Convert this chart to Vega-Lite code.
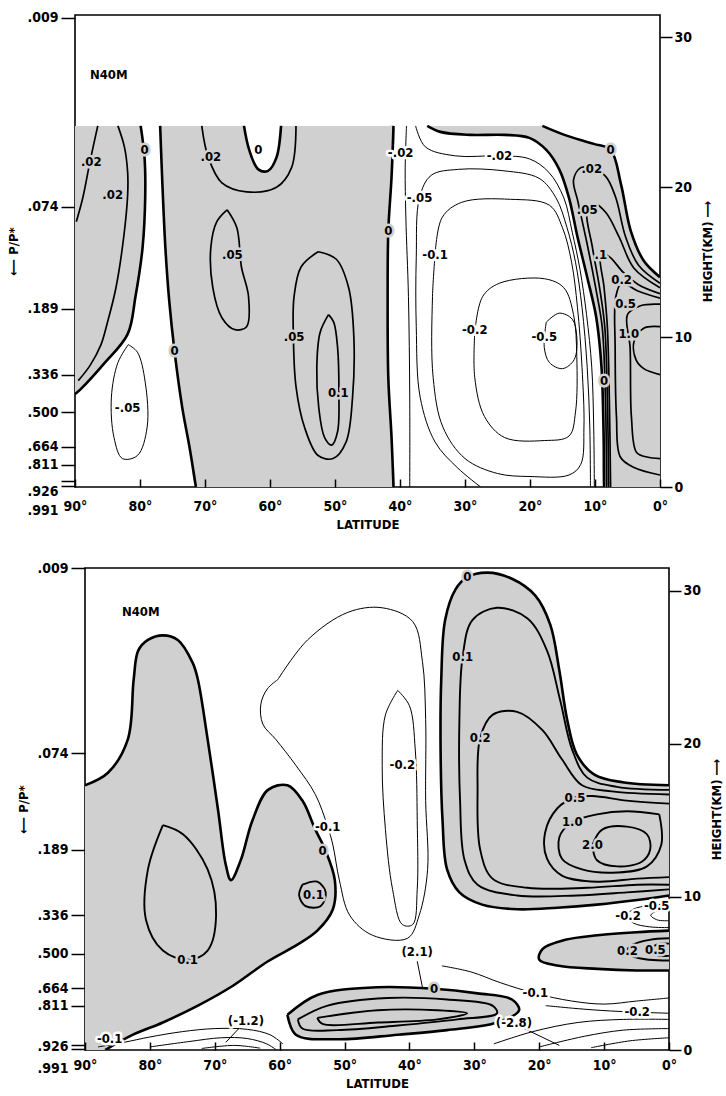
{
  "$schema": "https://vega.github.io/schema/vega-lite/v6.json",
  "background": "white",
  "padding": {"left": 6, "top": 10, "right": 2, "bottom": 2},
  "spacing": 28,
  "config": {
    "view": {"stroke": "black", "strokeWidth": 1.6},
    "font": "DejaVu Sans Condensed, Roboto, sans-serif",
    "axis": {
      "labelFont": "DejaVu Sans Condensed, Roboto, sans-serif", "labelFontSize": 14, "labelFontWeight": "bold", "labelColor": "black",
      "titleFont": "DejaVu Sans Condensed, Roboto, sans-serif", "titleFontSize": 13, "titleFontWeight": "bold", "titleColor": "black",
      "domain": false, "grid": false, "tickColor": "black", "tickWidth": 1.5, "labelOverlap": false
    },
    "text": {"font": "DejaVu Sans Condensed, Roboto, sans-serif", "fontWeight": "bold", "fontSize": 13}
  },
  "datasets": {
    "topFill": [
      {"r":"L","lat":90,"km":24.1},{"r":"L","lat":85,"km":24.1},{"r":"L","lat":80.6,"km":24.1},{"r":"L","lat":79.9,"km":24.1},{"r":"L","lat":79.3,"km":22},{"r":"L","lat":79.2,"km":19.3},{"r":"L","lat":79.6,"km":16},{"r":"L","lat":80.7,"km":12.7},{"r":"L","lat":81.9,"km":10.2},{"r":"L","lat":85.6,"km":8.2},{"r":"L","lat":89.2,"km":6.5},{"r":"L","lat":90,"km":6.2},
      {"r":"M","lat":76.9,"km":24.1},{"r":"M","lat":76.2,"km":24.1},{"r":"M","lat":70,"km":24.1},{"r":"M","lat":64.7,"km":24.1},{"r":"M","lat":64,"km":24.1},{"r":"M","lat":63.2,"km":22.5},{"r":"M","lat":61.8,"km":21.2},{"r":"M","lat":60.3,"km":21.1},{"r":"M","lat":59,"km":22},{"r":"M","lat":58.3,"km":24.1},{"r":"M","lat":57.6,"km":24.1},{"r":"M","lat":50,"km":24.1},{"r":"M","lat":41.7,"km":24.1},{"r":"M","lat":41,"km":24.1},{"r":"M","lat":41.3,"km":20.7},{"r":"M","lat":41.8,"km":17.1},{"r":"M","lat":41.9,"km":12.7},{"r":"M","lat":41.8,"km":7.3},{"r":"M","lat":41.3,"km":3.3},{"r":"M","lat":41,"km":0},{"r":"M","lat":41.7,"km":0},{"r":"M","lat":56,"km":0},{"r":"M","lat":70.7,"km":0},{"r":"M","lat":71.4,"km":0},{"r":"M","lat":72.4,"km":2.7},{"r":"M","lat":73.5,"km":5.3},{"r":"M","lat":74.7,"km":9.1},{"r":"M","lat":75.5,"km":12.4},{"r":"M","lat":76.1,"km":16},{"r":"M","lat":76.6,"km":20.7},
      {"r":"R","lat":35.8,"km":24.1},{"r":"R","lat":33.8,"km":23.7},{"r":"R","lat":29.2,"km":23.5},{"r":"R","lat":23.9,"km":23.5},{"r":"R","lat":20.1,"km":23.3},{"r":"R","lat":17.5,"km":22.5},{"r":"R","lat":15.5,"km":21.2},{"r":"R","lat":14,"km":19.3},{"r":"R","lat":12.7,"km":16.7},{"r":"R","lat":11.2,"km":14},{"r":"R","lat":9.8,"km":11.3},{"r":"R","lat":9,"km":8},{"r":"R","lat":8.7,"km":4},{"r":"R","lat":8.6,"km":0},{"r":"R","lat":7.9,"km":0},{"r":"R","lat":0,"km":0},{"r":"R","lat":0,"km":7},{"r":"R","lat":0,"km":14},{"r":"R","lat":2.5,"km":15.1},{"r":"R","lat":4.5,"km":17.1},{"r":"R","lat":6,"km":20.2},{"r":"R","lat":7.6,"km":22.5},{"r":"R","lat":10.2,"km":22.9},{"r":"R","lat":14.7,"km":23.5},{"r":"R","lat":18.1,"km":24.1},{"r":"R","lat":18.8,"km":24.1},{"r":"R","lat":27,"km":24.1},{"r":"R","lat":35.1,"km":24.1}
    ],
    "topLines": [
      {"c":"0L","v":0,"lat":79.9,"km":24.1},{"c":"0L","v":0,"lat":79.3,"km":22},{"c":"0L","v":0,"lat":79.2,"km":19.3},{"c":"0L","v":0,"lat":79.6,"km":16},{"c":"0L","v":0,"lat":80.7,"km":12.7},{"c":"0L","v":0,"lat":81.9,"km":10.2},{"c":"0L","v":0,"lat":85.6,"km":8.2},{"c":"0L","v":0,"lat":89.2,"km":6.5},{"c":"0L","v":0,"lat":90,"km":6.2},
      {"c":"0R","v":0,"lat":76.9,"km":24.1},{"c":"0R","v":0,"lat":76.6,"km":20.7},{"c":"0R","v":0,"lat":76.1,"km":16},{"c":"0R","v":0,"lat":75.5,"km":12.4},{"c":"0R","v":0,"lat":74.7,"km":9.1},{"c":"0R","v":0,"lat":73.5,"km":5.3},{"c":"0R","v":0,"lat":72.4,"km":2.7},{"c":"0R","v":0,"lat":71.4,"km":0},
      {"c":"n05a","v":-0.05,"lat":81.8,"km":9.5},{"c":"n05a","v":-0.05,"lat":83.4,"km":8.3},{"c":"n05a","v":-0.05,"lat":84.4,"km":6},{"c":"n05a","v":-0.05,"lat":84,"km":3.3},{"c":"n05a","v":-0.05,"lat":82.7,"km":1.9},{"c":"n05a","v":-0.05,"lat":80.4,"km":2.1},{"c":"n05a","v":-0.05,"lat":78.9,"km":4},{"c":"n05a","v":-0.05,"lat":79.2,"km":7},{"c":"n05a","v":-0.05,"lat":80.4,"km":9},{"c":"n05a","v":-0.05,"lat":81.8,"km":9.5},
      {"c":"p02a","v":0.02,"lat":86.5,"km":24.1},{"c":"p02a","v":0.02,"lat":87.7,"km":21.7},{"c":"p02a","v":0.02,"lat":88.8,"km":19.3},{"c":"p02a","v":0.02,"lat":89.8,"km":17.7},
      {"c":"p02b","v":0.02,"lat":83.4,"km":24.1},{"c":"p02b","v":0.02,"lat":82.4,"km":22.7},{"c":"p02b","v":0.02,"lat":81.9,"km":21},{"c":"p02b","v":0.02,"lat":81.9,"km":19.5},{"c":"p02b","v":0.02,"lat":82.5,"km":16.7},{"c":"p02b","v":0.02,"lat":83.7,"km":13.3},{"c":"p02b","v":0.02,"lat":85,"km":11},{"c":"p02b","v":0.02,"lat":86,"km":9.5},{"c":"p02b","v":0.02,"lat":87.7,"km":8.1},{"c":"p02b","v":0.02,"lat":89.5,"km":7.1},
      {"c":"0U","v":0,"lat":64,"km":24.1},{"c":"0U","v":0,"lat":63.2,"km":22.5},{"c":"0U","v":0,"lat":61.8,"km":21.2},{"c":"0U","v":0,"lat":60.3,"km":21.1},{"c":"0U","v":0,"lat":59,"km":22},{"c":"0U","v":0,"lat":58.3,"km":24.1},
      {"c":"p02c","v":0.02,"lat":70.5,"km":24.1},{"c":"p02c","v":0.02,"lat":69.5,"km":22},{"c":"p02c","v":0.02,"lat":67.4,"km":20.3},{"c":"p02c","v":0.02,"lat":63.6,"km":19.7},{"c":"p02c","v":0.02,"lat":59,"km":20},{"c":"p02c","v":0.02,"lat":56.7,"km":21.3},{"c":"p02c","v":0.02,"lat":56,"km":24.1},
      {"c":"p05b","v":0.05,"lat":66.6,"km":18.5},{"c":"p05b","v":0.05,"lat":68.2,"km":17.7},{"c":"p05b","v":0.05,"lat":69.1,"km":16},{"c":"p05b","v":0.05,"lat":68.8,"km":13.3},{"c":"p05b","v":0.05,"lat":67.4,"km":11.3},{"c":"p05b","v":0.05,"lat":65.4,"km":10.5},{"c":"p05b","v":0.05,"lat":63.6,"km":10.7},{"c":"p05b","v":0.05,"lat":63.3,"km":12.7},{"c":"p05b","v":0.05,"lat":64.4,"km":14.7},{"c":"p05b","v":0.05,"lat":65.1,"km":17.3},{"c":"p05b","v":0.05,"lat":66.6,"km":18.5},
      {"c":"p05c","v":0.05,"lat":52.6,"km":15.7},{"c":"p05c","v":0.05,"lat":55.2,"km":14.7},{"c":"p05c","v":0.05,"lat":56.3,"km":12.7},{"c":"p05c","v":0.05,"lat":56.4,"km":10},{"c":"p05c","v":0.05,"lat":56,"km":6.7},{"c":"p05c","v":0.05,"lat":54.7,"km":4},{"c":"p05c","v":0.05,"lat":52.6,"km":2.1},{"c":"p05c","v":0.05,"lat":50.3,"km":1.9},{"c":"p05c","v":0.05,"lat":48.3,"km":3},{"c":"p05c","v":0.05,"lat":47.3,"km":6},{"c":"p05c","v":0.05,"lat":47.1,"km":10},{"c":"p05c","v":0.05,"lat":47.9,"km":13.3},{"c":"p05c","v":0.05,"lat":49.8,"km":15.2},{"c":"p05c","v":0.05,"lat":52.6,"km":15.7},
      {"c":"p1c","v":0.1,"lat":51,"km":11.5},{"c":"p1c","v":0.1,"lat":52.3,"km":10.3},{"c":"p1c","v":0.1,"lat":52.8,"km":8},{"c":"p1c","v":0.1,"lat":52.5,"km":5.3},{"c":"p1c","v":0.1,"lat":51.6,"km":3.3},{"c":"p1c","v":0.1,"lat":50.5,"km":2.8},{"c":"p1c","v":0.1,"lat":49.6,"km":3.7},{"c":"p1c","v":0.1,"lat":49.4,"km":6.3},{"c":"p1c","v":0.1,"lat":49.6,"km":9.3},{"c":"p1c","v":0.1,"lat":50.2,"km":11},{"c":"p1c","v":0.1,"lat":51,"km":11.5},
      {"c":"0d","v":0,"lat":41,"km":24.1},{"c":"0d","v":0,"lat":41.3,"km":20.7},{"c":"0d","v":0,"lat":41.8,"km":17.1},{"c":"0d","v":0,"lat":41.9,"km":12.7},{"c":"0d","v":0,"lat":41.8,"km":7.3},{"c":"0d","v":0,"lat":41.3,"km":3.3},{"c":"0d","v":0,"lat":41,"km":0},
      {"c":"n02L","v":-0.02,"lat":39,"km":24.1},{"c":"n02L","v":-0.02,"lat":39.2,"km":21.3},{"c":"n02L","v":-0.02,"lat":39.1,"km":18},{"c":"n02L","v":-0.02,"lat":38.7,"km":12.7},{"c":"n02L","v":-0.02,"lat":38.5,"km":6},{"c":"n02L","v":-0.02,"lat":38.5,"km":0},
      {"c":"n02R","v":-0.02,"lat":37.6,"km":24.1},{"c":"n02R","v":-0.02,"lat":36.1,"km":22.7},{"c":"n02R","v":-0.02,"lat":31.5,"km":22.1},{"c":"n02R","v":-0.02,"lat":24.7,"km":22.1},{"c":"n02R","v":-0.02,"lat":20.1,"km":21.9},{"c":"n02R","v":-0.02,"lat":17.1,"km":21},{"c":"n02R","v":-0.02,"lat":14.8,"km":19.3},{"c":"n02R","v":-0.02,"lat":13.5,"km":17},{"c":"n02R","v":-0.02,"lat":12.3,"km":14.5},{"c":"n02R","v":-0.02,"lat":11.3,"km":11.5},{"c":"n02R","v":-0.02,"lat":10.5,"km":8},{"c":"n02R","v":-0.02,"lat":10.2,"km":4},{"c":"n02R","v":-0.02,"lat":10.1,"km":0},
      {"c":"n05","v":-0.05,"lat":27.6,"km":0},{"c":"n05","v":-0.05,"lat":31.2,"km":1.3},{"c":"n05","v":-0.05,"lat":34.6,"km":3},{"c":"n05","v":-0.05,"lat":36.9,"km":6},{"c":"n05","v":-0.05,"lat":37.5,"km":10.7},{"c":"n05","v":-0.05,"lat":37.5,"km":15.3},{"c":"n05","v":-0.05,"lat":37,"km":19.3},{"c":"n05","v":-0.05,"lat":35.2,"km":20.8},{"c":"n05","v":-0.05,"lat":31,"km":21.2},{"c":"n05","v":-0.05,"lat":24,"km":21.1},{"c":"n05","v":-0.05,"lat":18.6,"km":20.6},{"c":"n05","v":-0.05,"lat":16,"km":19.3},{"c":"n05","v":-0.05,"lat":14.3,"km":17.3},{"c":"n05","v":-0.05,"lat":13,"km":15},{"c":"n05","v":-0.05,"lat":12,"km":12},{"c":"n05","v":-0.05,"lat":11.2,"km":8},{"c":"n05","v":-0.05,"lat":10.8,"km":4},{"c":"n05","v":-0.05,"lat":10.7,"km":0},
      {"c":"n1","v":-0.1,"lat":34.6,"km":15.5},{"c":"n1","v":-0.1,"lat":33.5,"km":18},{"c":"n1","v":-0.1,"lat":30.5,"km":19},{"c":"n1","v":-0.1,"lat":23,"km":19.2},{"c":"n1","v":-0.1,"lat":17,"km":18.8},{"c":"n1","v":-0.1,"lat":15,"km":17.3},{"c":"n1","v":-0.1,"lat":13.6,"km":15},{"c":"n1","v":-0.1,"lat":12.7,"km":12},{"c":"n1","v":-0.1,"lat":12,"km":8},{"c":"n1","v":-0.1,"lat":11.7,"km":4},{"c":"n1","v":-0.1,"lat":12.2,"km":1.5},{"c":"n1","v":-0.1,"lat":14,"km":0.8},{"c":"n1","v":-0.1,"lat":20,"km":0.7},{"c":"n1","v":-0.1,"lat":25,"km":0.9},{"c":"n1","v":-0.1,"lat":30,"km":1.9},{"c":"n1","v":-0.1,"lat":33.4,"km":4},{"c":"n1","v":-0.1,"lat":34.9,"km":7.3},{"c":"n1","v":-0.1,"lat":35,"km":12.7},{"c":"n1","v":-0.1,"lat":34.6,"km":15.5},
      {"c":"n2","v":-0.2,"lat":28.5,"km":10.3},{"c":"n2","v":-0.2,"lat":27.3,"km":12.7},{"c":"n2","v":-0.2,"lat":24.7,"km":13.6},{"c":"n2","v":-0.2,"lat":17.8,"km":13.9},{"c":"n2","v":-0.2,"lat":14.8,"km":13.3},{"c":"n2","v":-0.2,"lat":13.3,"km":11.5},{"c":"n2","v":-0.2,"lat":12.8,"km":8.7},{"c":"n2","v":-0.2,"lat":13,"km":5},{"c":"n2","v":-0.2,"lat":14,"km":3.4},{"c":"n2","v":-0.2,"lat":17.8,"km":3.1},{"c":"n2","v":-0.2,"lat":23.9,"km":3.3},{"c":"n2","v":-0.2,"lat":27,"km":4.7},{"c":"n2","v":-0.2,"lat":28.5,"km":7.3},{"c":"n2","v":-0.2,"lat":28.5,"km":10.3},
      {"c":"n5","v":-0.5,"lat":17.5,"km":11},{"c":"n5","v":-0.5,"lat":15.5,"km":11.6},{"c":"n5","v":-0.5,"lat":13.5,"km":11.2},{"c":"n5","v":-0.5,"lat":12.8,"km":10},{"c":"n5","v":-0.5,"lat":13.2,"km":8.5},{"c":"n5","v":-0.5,"lat":15,"km":7.9},{"c":"n5","v":-0.5,"lat":17,"km":8.3},{"c":"n5","v":-0.5,"lat":17.8,"km":9.3},{"c":"n5","v":-0.5,"lat":17.5,"km":11},
      {"c":"0e","v":0,"lat":35.8,"km":24.1},{"c":"0e","v":0,"lat":33.8,"km":23.7},{"c":"0e","v":0,"lat":29.2,"km":23.5},{"c":"0e","v":0,"lat":23.9,"km":23.5},{"c":"0e","v":0,"lat":20.1,"km":23.3},{"c":"0e","v":0,"lat":17.5,"km":22.5},{"c":"0e","v":0,"lat":15.5,"km":21.2},{"c":"0e","v":0,"lat":14,"km":19.3},{"c":"0e","v":0,"lat":12.7,"km":16.7},{"c":"0e","v":0,"lat":11.2,"km":14},{"c":"0e","v":0,"lat":9.8,"km":11.3},{"c":"0e","v":0,"lat":9,"km":8},{"c":"0e","v":0,"lat":8.7,"km":4},{"c":"0e","v":0,"lat":8.6,"km":0},
      {"c":"0f","v":0,"lat":18.1,"km":24.1},{"c":"0f","v":0,"lat":14.7,"km":23.5},{"c":"0f","v":0,"lat":10.2,"km":22.9},{"c":"0f","v":0,"lat":7.6,"km":22.5},{"c":"0f","v":0,"lat":6,"km":20.2},{"c":"0f","v":0,"lat":4.5,"km":17.1},{"c":"0f","v":0,"lat":2.5,"km":15.1},{"c":"0f","v":0,"lat":0,"km":14},
      {"c":"p02g","v":0.02,"lat":8.2,"km":0},{"c":"p02g","v":0.02,"lat":8.4,"km":6},{"c":"p02g","v":0.02,"lat":8.9,"km":10.7},{"c":"p02g","v":0.02,"lat":9.9,"km":13.3},{"c":"p02g","v":0.02,"lat":11.2,"km":16.2},{"c":"p02g","v":0.02,"lat":12.6,"km":19},{"c":"p02g","v":0.02,"lat":13.3,"km":20.5},{"c":"p02g","v":0.02,"lat":12.2,"km":21.3},{"c":"p02g","v":0.02,"lat":10.5,"km":21.3},{"c":"p02g","v":0.02,"lat":8.3,"km":20.7},{"c":"p02g","v":0.02,"lat":6.8,"km":19.3},{"c":"p02g","v":0.02,"lat":5.3,"km":16.7},{"c":"p02g","v":0.02,"lat":3.3,"km":14.8},{"c":"p02g","v":0.02,"lat":0,"km":13.6},
      {"c":"p05g","v":0.05,"lat":7.9,"km":0},{"c":"p05g","v":0.05,"lat":8.1,"km":6},{"c":"p05g","v":0.05,"lat":8.5,"km":10.7},{"c":"p05g","v":0.05,"lat":9.3,"km":13.3},{"c":"p05g","v":0.05,"lat":10.4,"km":16},{"c":"p05g","v":0.05,"lat":11.2,"km":18.5},{"c":"p05g","v":0.05,"lat":10,"km":18.9},{"c":"p05g","v":0.05,"lat":8.3,"km":18.3},{"c":"p05g","v":0.05,"lat":6.3,"km":16.7},{"c":"p05g","v":0.05,"lat":4,"km":14.6},{"c":"p05g","v":0.05,"lat":0,"km":13.3},
      {"c":"p1g","v":0.1,"lat":7.6,"km":0},{"c":"p1g","v":0.1,"lat":7.8,"km":6},{"c":"p1g","v":0.1,"lat":8.1,"km":10.7},{"c":"p1g","v":0.1,"lat":8.6,"km":13.3},{"c":"p1g","v":0.1,"lat":9.1,"km":15.5},{"c":"p1g","v":0.1,"lat":7.9,"km":15.4},{"c":"p1g","v":0.1,"lat":5.6,"km":14.3},{"c":"p1g","v":0.1,"lat":3.3,"km":13.5},{"c":"p1g","v":0.1,"lat":0,"km":12.9},
      {"c":"p2g","v":0.2,"lat":0,"km":12.6},{"c":"p2g","v":0.2,"lat":3.5,"km":13.1},{"c":"p2g","v":0.2,"lat":5.9,"km":13.6},{"c":"p2g","v":0.2,"lat":6.8,"km":12.7},{"c":"p2g","v":0.2,"lat":6.9,"km":9.3},{"c":"p2g","v":0.2,"lat":6.7,"km":4.7},{"c":"p2g","v":0.2,"lat":6.1,"km":2},{"c":"p2g","v":0.2,"lat":4,"km":1.3},{"c":"p2g","v":0.2,"lat":0,"km":0.8},
      {"c":"p5g","v":0.5,"lat":0,"km":12.2},{"c":"p5g","v":0.5,"lat":3,"km":12.1},{"c":"p5g","v":0.5,"lat":5,"km":11.5},{"c":"p5g","v":0.5,"lat":4.6,"km":9.3},{"c":"p5g","v":0.5,"lat":4.4,"km":4.7},{"c":"p5g","v":0.5,"lat":3.6,"km":2.3},{"c":"p5g","v":0.5,"lat":2,"km":2},{"c":"p5g","v":0.5,"lat":0,"km":1.9},
      {"c":"p10g","v":1,"lat":0,"km":10.7},{"c":"p10g","v":1,"lat":2.5,"km":10.6},{"c":"p10g","v":1,"lat":4,"km":9.7},{"c":"p10g","v":1,"lat":3.7,"km":8.5},{"c":"p10g","v":1,"lat":2.5,"km":7.9},{"c":"p10g","v":1,"lat":0,"km":7.5}
    ],
    "topLabelsShaded": [
      {"t":".02","lat":87.5,"km":21.7},{"t":".02","lat":84.2,"km":19.5},{"t":"0","lat":79.3,"km":22.5},{"t":".02","lat":69.1,"km":22},{"t":".05","lat":65.8,"km":15.5},{"t":".05","lat":56.3,"km":10},{"t":"0.1","lat":49.5,"km":6.3},{"t":"0","lat":74.7,"km":9.1},{"t":"0","lat":41.8,"km":17.1},{"t":"0","lat":7.6,"km":22.5},{"t":".02","lat":10.5,"km":21.2},{"t":".05","lat":11.2,"km":18.5},{"t":".1","lat":9.1,"km":15.5},{"t":"0.2","lat":5.9,"km":13.8},{"t":"0.5","lat":5.3,"km":12.2},{"t":"1.0","lat":4.8,"km":10.2},{"t":"0","lat":8.6,"km":7.1}
    ],
    "topLabelsClear": [
      {"t":"N40M","lat":84.8,"km":27.5},{"t":"0","lat":61.8,"km":22.5},{"t":"-.05","lat":81.9,"km":5.3},{"t":"-.02","lat":39.9,"km":22.3},{"t":"-.05","lat":37,"km":19.3},{"t":"-0.1","lat":34.6,"km":15.5},{"t":"-0.2","lat":28.5,"km":10.5},{"t":"-0.5","lat":17.8,"km":10},{"t":"-.02","lat":24.7,"km":22.1}
    ],
    "botFill": [
      {"r":"L","lat":90,"km":17.3},{"r":"L","lat":86.5,"km":18.1},{"r":"L","lat":83.4,"km":20.3},{"r":"L","lat":82.5,"km":24.2},{"r":"L","lat":81.8,"km":26.1},{"r":"L","lat":80.3,"km":26.8},{"r":"L","lat":78,"km":27.1},{"r":"L","lat":75.7,"km":26.8},{"r":"L","lat":73.4,"km":25.3},{"r":"L","lat":72.6,"km":24.2},{"r":"L","lat":71.1,"km":20.3},{"r":"L","lat":69.5,"km":15.7},{"r":"L","lat":68.3,"km":12.1},{"r":"L","lat":67.5,"km":11.1},{"r":"L","lat":66,"km":12.4},{"r":"L","lat":64.2,"km":15},{"r":"L","lat":61.8,"km":17},{"r":"L","lat":58.8,"km":17.3},{"r":"L","lat":56.5,"km":16.3},{"r":"L","lat":54.5,"km":14.4},{"r":"L","lat":52.9,"km":13},{"r":"L","lat":51.5,"km":11.1},{"r":"L","lat":51.8,"km":9.2},{"r":"L","lat":54.2,"km":7.8},{"r":"L","lat":57.2,"km":6.9},{"r":"L","lat":61.8,"km":5.8},{"r":"L","lat":67.2,"km":4.2},{"r":"L","lat":72.6,"km":2.9},{"r":"L","lat":78,"km":1.8},{"r":"L","lat":82.6,"km":1},{"r":"L","lat":86.9,"km":0},{"r":"L","lat":87.6,"km":0},{"r":"L","lat":90,"km":0},
      {"r":"R","lat":0,"km":10.1},{"r":"R","lat":4.9,"km":9.8},{"r":"R","lat":11.1,"km":9.5},{"r":"R","lat":17.2,"km":9.3},{"r":"R","lat":23.4,"km":9.2},{"r":"R","lat":28.8,"km":9.5},{"r":"R","lat":32.3,"km":10.3},{"r":"R","lat":34.2,"km":11.8},{"r":"R","lat":34.9,"km":15},{"r":"R","lat":35.2,"km":19.6},{"r":"R","lat":35.1,"km":24.2},{"r":"R","lat":34.5,"km":28.1},{"r":"R","lat":32.9,"km":30.1},{"r":"R","lat":31.1,"km":30.9},{"r":"R","lat":28,"km":31.2},{"r":"R","lat":24.2,"km":30.8},{"r":"R","lat":20.6,"km":29.7},{"r":"R","lat":18.3,"km":27.8},{"r":"R","lat":16.9,"km":24.8},{"r":"R","lat":15.7,"km":21.6},{"r":"R","lat":14.2,"km":19.3},{"r":"R","lat":11.5,"km":18},{"r":"R","lat":7.2,"km":17.5},{"r":"R","lat":0,"km":17.3},
      {"r":"B","lat":0,"km":7.8},{"r":"B","lat":5,"km":7.7},{"r":"B","lat":11,"km":7.5},{"r":"B","lat":16,"km":7.2},{"r":"B","lat":19.5,"km":6.6},{"r":"B","lat":20,"km":5.9},{"r":"B","lat":17,"km":5.5},{"r":"B","lat":11,"km":5.3},{"r":"B","lat":5,"km":5.2},{"r":"B","lat":0,"km":5.2},
      {"r":"S","lat":58.8,"km":2.3},{"r":"S","lat":54.2,"km":3.6},{"r":"S","lat":44.9,"km":4.1},{"r":"S","lat":36.2,"km":4},{"r":"S","lat":29.5,"km":3.7},{"r":"S","lat":24.2,"km":3.3},{"r":"S","lat":23.1,"km":2.6},{"r":"S","lat":26.5,"km":1.8},{"r":"S","lat":34.2,"km":1.3},{"r":"S","lat":41.8,"km":1},{"r":"S","lat":51.1,"km":0.7},{"r":"S","lat":57.5,"km":1}
    ],
    "botLines": [
      {"c":"0a","v":0,"lat":90,"km":17.3},{"c":"0a","v":0,"lat":86.5,"km":18.1},{"c":"0a","v":0,"lat":83.4,"km":20.3},{"c":"0a","v":0,"lat":82.5,"km":24.2},{"c":"0a","v":0,"lat":81.8,"km":26.1},{"c":"0a","v":0,"lat":80.3,"km":26.8},{"c":"0a","v":0,"lat":78,"km":27.1},{"c":"0a","v":0,"lat":75.7,"km":26.8},{"c":"0a","v":0,"lat":73.4,"km":25.3},{"c":"0a","v":0,"lat":72.6,"km":24.2},{"c":"0a","v":0,"lat":71.1,"km":20.3},{"c":"0a","v":0,"lat":69.5,"km":15.7},{"c":"0a","v":0,"lat":68.3,"km":12.1},{"c":"0a","v":0,"lat":67.5,"km":11.1},{"c":"0a","v":0,"lat":66,"km":12.4},{"c":"0a","v":0,"lat":64.2,"km":15},{"c":"0a","v":0,"lat":61.8,"km":17},{"c":"0a","v":0,"lat":58.8,"km":17.3},{"c":"0a","v":0,"lat":56.5,"km":16.3},{"c":"0a","v":0,"lat":54.5,"km":14.4},{"c":"0a","v":0,"lat":52.9,"km":13},{"c":"0a","v":0,"lat":51.5,"km":11.1},{"c":"0a","v":0,"lat":51.8,"km":9.2},{"c":"0a","v":0,"lat":54.2,"km":7.8},{"c":"0a","v":0,"lat":57.2,"km":6.9},{"c":"0a","v":0,"lat":61.8,"km":5.8},{"c":"0a","v":0,"lat":67.2,"km":4.2},{"c":"0a","v":0,"lat":72.6,"km":2.9},{"c":"0a","v":0,"lat":78,"km":1.8},{"c":"0a","v":0,"lat":82.6,"km":1},{"c":"0a","v":0,"lat":86.9,"km":0},
      {"c":"p1a","v":0.1,"lat":78,"km":14.7},{"c":"p1a","v":0.1,"lat":80.3,"km":11.8},{"c":"p1a","v":0.1,"lat":80.6,"km":8.5},{"c":"p1a","v":0.1,"lat":78,"km":6.5},{"c":"p1a","v":0.1,"lat":74.2,"km":5.9},{"c":"p1a","v":0.1,"lat":71.1,"km":6.5},{"c":"p1a","v":0.1,"lat":69.8,"km":8.8},{"c":"p1a","v":0.1,"lat":71.1,"km":11.8},{"c":"p1a","v":0.1,"lat":74.9,"km":14.1},{"c":"p1a","v":0.1,"lat":78,"km":14.7},
      {"c":"p1b","v":0.1,"lat":56.5,"km":10.8},{"c":"p1b","v":0.1,"lat":54.2,"km":11},{"c":"p1b","v":0.1,"lat":52.9,"km":10.3},{"c":"p1b","v":0.1,"lat":53.7,"km":9.4},{"c":"p1b","v":0.1,"lat":56,"km":9.4},{"c":"p1b","v":0.1,"lat":57,"km":10.1},{"c":"p1b","v":0.1,"lat":56.5,"km":10.8},
      {"c":"n1","v":-0.1,"lat":60.3,"km":24.2},{"c":"n1","v":-0.1,"lat":55.7,"km":26.8},{"c":"n1","v":-0.1,"lat":49.5,"km":28.6},{"c":"n1","v":-0.1,"lat":44.2,"km":28.9},{"c":"n1","v":-0.1,"lat":39.5,"km":28},{"c":"n1","v":-0.1,"lat":38,"km":25.4},{"c":"n1","v":-0.1,"lat":37.5,"km":21.6},{"c":"n1","v":-0.1,"lat":37.5,"km":16.3},{"c":"n1","v":-0.1,"lat":37.2,"km":11.8},{"c":"n1","v":-0.1,"lat":38.5,"km":8.8},{"c":"n1","v":-0.1,"lat":40.3,"km":7.3},{"c":"n1","v":-0.1,"lat":45.7,"km":7.5},{"c":"n1","v":-0.1,"lat":49.2,"km":8.8},{"c":"n1","v":-0.1,"lat":50.8,"km":11.1},{"c":"n1","v":-0.1,"lat":51.8,"km":13.4},{"c":"n1","v":-0.1,"lat":52.6,"km":14.6},{"c":"n1","v":-0.1,"lat":54.5,"km":16.7},{"c":"n1","v":-0.1,"lat":57.5,"km":18.6},{"c":"n1","v":-0.1,"lat":60.6,"km":20.3},{"c":"n1","v":-0.1,"lat":62.6,"km":21.3},{"c":"n1","v":-0.1,"lat":62.9,"km":22.6},{"c":"n1","v":-0.1,"lat":61.9,"km":23.6},{"c":"n1","v":-0.1,"lat":60.3,"km":24.2},
      {"c":"n2","v":-0.2,"lat":41.8,"km":23.5},{"c":"n2","v":-0.2,"lat":43.7,"km":21.9},{"c":"n2","v":-0.2,"lat":44.2,"km":18.6},{"c":"n2","v":-0.2,"lat":43.7,"km":14.4},{"c":"n2","v":-0.2,"lat":42.6,"km":10.5},{"c":"n2","v":-0.2,"lat":41.1,"km":8.2},{"c":"n2","v":-0.2,"lat":39.5,"km":8.2},{"c":"n2","v":-0.2,"lat":38.8,"km":10.5},{"c":"n2","v":-0.2,"lat":38.8,"km":15},{"c":"n2","v":-0.2,"lat":39.1,"km":19.6},{"c":"n2","v":-0.2,"lat":40,"km":22.5},{"c":"n2","v":-0.2,"lat":41.8,"km":23.5},
      {"c":"0b","v":0,"lat":0,"km":10.1},{"c":"0b","v":0,"lat":4.9,"km":9.8},{"c":"0b","v":0,"lat":11.1,"km":9.5},{"c":"0b","v":0,"lat":17.2,"km":9.3},{"c":"0b","v":0,"lat":23.4,"km":9.2},{"c":"0b","v":0,"lat":28.8,"km":9.5},{"c":"0b","v":0,"lat":32.3,"km":10.3},{"c":"0b","v":0,"lat":34.2,"km":11.8},{"c":"0b","v":0,"lat":34.9,"km":15},{"c":"0b","v":0,"lat":35.2,"km":19.6},{"c":"0b","v":0,"lat":35.1,"km":24.2},{"c":"0b","v":0,"lat":34.5,"km":28.1},{"c":"0b","v":0,"lat":32.9,"km":30.1},{"c":"0b","v":0,"lat":31.1,"km":30.9},{"c":"0b","v":0,"lat":28,"km":31.2},{"c":"0b","v":0,"lat":24.2,"km":30.8},{"c":"0b","v":0,"lat":20.6,"km":29.7},{"c":"0b","v":0,"lat":18.3,"km":27.8},{"c":"0b","v":0,"lat":16.9,"km":24.8},{"c":"0b","v":0,"lat":15.7,"km":21.6},{"c":"0b","v":0,"lat":14.2,"km":19.3},{"c":"0b","v":0,"lat":11.5,"km":18},{"c":"0b","v":0,"lat":7.2,"km":17.5},{"c":"0b","v":0,"lat":0,"km":17.3},
      {"c":"p1c","v":0.1,"lat":0,"km":17},{"c":"p1c","v":0.1,"lat":8,"km":17.2},{"c":"p1c","v":0.1,"lat":12.6,"km":17.8},{"c":"p1c","v":0.1,"lat":14.9,"km":19.6},{"c":"p1c","v":0.1,"lat":16.8,"km":22.9},{"c":"p1c","v":0.1,"lat":18.8,"km":26.1},{"c":"p1c","v":0.1,"lat":21.8,"km":28.2},{"c":"p1c","v":0.1,"lat":26.5,"km":28.9},{"c":"p1c","v":0.1,"lat":30.3,"km":28.1},{"c":"p1c","v":0.1,"lat":31.8,"km":25.7},{"c":"p1c","v":0.1,"lat":32.3,"km":21.6},{"c":"p1c","v":0.1,"lat":32.2,"km":16.3},{"c":"p1c","v":0.1,"lat":31.5,"km":12.4},{"c":"p1c","v":0.1,"lat":29.5,"km":10.8},{"c":"p1c","v":0.1,"lat":23.4,"km":10.1},{"c":"p1c","v":0.1,"lat":14.2,"km":10.1},{"c":"p1c","v":0.1,"lat":6.5,"km":10.3},{"c":"p1c","v":0.1,"lat":0,"km":10.5},
      {"c":"p2c","v":0.2,"lat":0,"km":16.7},{"c":"p2c","v":0.2,"lat":8.8,"km":16.9},{"c":"p2c","v":0.2,"lat":13.4,"km":17.3},{"c":"p2c","v":0.2,"lat":16.5,"km":19},{"c":"p2c","v":0.2,"lat":19.5,"km":20.9},{"c":"p2c","v":0.2,"lat":23.4,"km":22.1},{"c":"p2c","v":0.2,"lat":27.2,"km":21.9},{"c":"p2c","v":0.2,"lat":29.1,"km":20.4},{"c":"p2c","v":0.2,"lat":29.5,"km":17},{"c":"p2c","v":0.2,"lat":29.1,"km":13.1},{"c":"p2c","v":0.2,"lat":27.2,"km":11.2},{"c":"p2c","v":0.2,"lat":21.8,"km":10.6},{"c":"p2c","v":0.2,"lat":12.6,"km":10.6},{"c":"p2c","v":0.2,"lat":4.9,"km":10.8},{"c":"p2c","v":0.2,"lat":0,"km":10.8},
      {"c":"p5c","v":0.5,"lat":0,"km":16.1},{"c":"p5c","v":0.5,"lat":6.5,"km":16.3},{"c":"p5c","v":0.5,"lat":11.8,"km":16.6},{"c":"p5c","v":0.5,"lat":14.5,"km":16.5},{"c":"p5c","v":0.5,"lat":17.2,"km":15.8},{"c":"p5c","v":0.5,"lat":19.1,"km":14.2},{"c":"p5c","v":0.5,"lat":18.8,"km":12.5},{"c":"p5c","v":0.5,"lat":16.5,"km":11.4},{"c":"p5c","v":0.5,"lat":11.1,"km":11},{"c":"p5c","v":0.5,"lat":4.9,"km":11.2},{"c":"p5c","v":0.5,"lat":0,"km":11.3},
      {"c":"p10c","v":1,"lat":1.5,"km":15.4},{"c":"p10c","v":1,"lat":6.5,"km":15.6},{"c":"p10c","v":1,"lat":11.1,"km":15.4},{"c":"p10c","v":1,"lat":14.9,"km":14.9},{"c":"p10c","v":1,"lat":16.9,"km":13.9},{"c":"p10c","v":1,"lat":16.5,"km":12.5},{"c":"p10c","v":1,"lat":13.4,"km":11.8},{"c":"p10c","v":1,"lat":8,"km":11.6},{"c":"p10c","v":1,"lat":3.4,"km":12},{"c":"p10c","v":1,"lat":1.2,"km":13.4},{"c":"p10c","v":1,"lat":1.5,"km":15.4},
      {"c":"p20c","v":2,"lat":11.8,"km":13.4},{"c":"p20c","v":2,"lat":10.3,"km":14.4},{"c":"p20c","v":2,"lat":6.5,"km":14.6},{"c":"p20c","v":2,"lat":3.4,"km":14.1},{"c":"p20c","v":2,"lat":2.9,"km":13.1},{"c":"p20c","v":2,"lat":4.2,"km":12.3},{"c":"p20c","v":2,"lat":8,"km":12},{"c":"p20c","v":2,"lat":11.1,"km":12.4},{"c":"p20c","v":2,"lat":11.8,"km":13.4},
      {"c":"n2d","v":-0.2,"lat":0,"km":9.55},{"c":"n2d","v":-0.2,"lat":3,"km":9.45},{"c":"n2d","v":-0.2,"lat":5.5,"km":9.2},{"c":"n2d","v":-0.2,"lat":6.5,"km":8.75},{"c":"n2d","v":-0.2,"lat":5.5,"km":8.3},{"c":"n2d","v":-0.2,"lat":3,"km":8.05},{"c":"n2d","v":-0.2,"lat":0,"km":8},
      {"c":"n5d","v":-0.5,"lat":0,"km":9.15},{"c":"n5d","v":-0.5,"lat":1.8,"km":9.1},{"c":"n5d","v":-0.5,"lat":2.8,"km":8.8},{"c":"n5d","v":-0.5,"lat":1.8,"km":8.5},{"c":"n5d","v":-0.5,"lat":0,"km":8.45},
      {"c":"0c","v":0,"lat":0,"km":7.8},{"c":"0c","v":0,"lat":5,"km":7.7},{"c":"0c","v":0,"lat":11,"km":7.5},{"c":"0c","v":0,"lat":16,"km":7.2},{"c":"0c","v":0,"lat":19.5,"km":6.6},{"c":"0c","v":0,"lat":20,"km":5.9},{"c":"0c","v":0,"lat":17,"km":5.5},{"c":"0c","v":0,"lat":11,"km":5.3},{"c":"0c","v":0,"lat":5,"km":5.2},{"c":"0c","v":0,"lat":0,"km":5.2},
      {"c":"p2e","v":0.2,"lat":0,"km":7.3},{"c":"p2e","v":0.2,"lat":3,"km":7.2},{"c":"p2e","v":0.2,"lat":5.5,"km":6.9},{"c":"p2e","v":0.2,"lat":6.5,"km":6.5},{"c":"p2e","v":0.2,"lat":5.5,"km":6.1},{"c":"p2e","v":0.2,"lat":3,"km":5.9},{"c":"p2e","v":0.2,"lat":0,"km":5.85},
      {"c":"p5e","v":0.5,"lat":0,"km":6.95},{"c":"p5e","v":0.5,"lat":1.8,"km":6.9},{"c":"p5e","v":0.5,"lat":2.8,"km":6.55},{"c":"p5e","v":0.5,"lat":1.8,"km":6.2},{"c":"p5e","v":0.5,"lat":0,"km":6.15},
      {"c":"n1e","v":-0.1,"lat":35,"km":5.5},{"c":"n1e","v":-0.1,"lat":30.5,"km":5.1},{"c":"n1e","v":-0.1,"lat":26,"km":4.4},{"c":"n1e","v":-0.1,"lat":20.6,"km":3.7},{"c":"n1e","v":-0.1,"lat":15,"km":3.2},{"c":"n1e","v":-0.1,"lat":10,"km":3},{"c":"n1e","v":-0.1,"lat":5,"km":3.2},{"c":"n1e","v":-0.1,"lat":0,"km":3.4},
      {"c":"n2e","v":-0.2,"lat":19,"km":2.9},{"c":"n2e","v":-0.2,"lat":14,"km":2.7},{"c":"n2e","v":-0.2,"lat":9,"km":2.55},{"c":"n2e","v":-0.2,"lat":0,"km":2.4},
      {"c":"n3e","v":-0.5,"lat":27,"km":0.4},{"c":"n3e","v":-0.5,"lat":21,"km":1.2},{"c":"n3e","v":-0.5,"lat":14,"km":1.8},{"c":"n3e","v":-0.5,"lat":7,"km":2},{"c":"n3e","v":-0.5,"lat":0,"km":2},
      {"c":"n4e","v":-1,"lat":20,"km":0.2},{"c":"n4e","v":-1,"lat":13,"km":0.9},{"c":"n4e","v":-1,"lat":7,"km":1.3},{"c":"n4e","v":-1,"lat":0,"km":1.4},
      {"c":"n5e","v":-2,"lat":12,"km":0.15},{"c":"n5e","v":-2,"lat":6,"km":0.6},{"c":"n5e","v":-2,"lat":0,"km":0.8},
      {"c":"0d","v":0,"lat":58.8,"km":2.3},{"c":"0d","v":0,"lat":54.2,"km":3.6},{"c":"0d","v":0,"lat":44.9,"km":4.1},{"c":"0d","v":0,"lat":36.2,"km":4},{"c":"0d","v":0,"lat":29.5,"km":3.7},{"c":"0d","v":0,"lat":24.2,"km":3.3},{"c":"0d","v":0,"lat":23.1,"km":2.6},{"c":"0d","v":0,"lat":26.5,"km":1.8},{"c":"0d","v":0,"lat":34.2,"km":1.3},{"c":"0d","v":0,"lat":41.8,"km":1},{"c":"0d","v":0,"lat":51.1,"km":0.7},{"c":"0d","v":0,"lat":57.5,"km":1},{"c":"0d","v":0,"lat":58.8,"km":2.3},
      {"c":"p1d","v":0.5,"lat":57.2,"km":2},{"c":"p1d","v":0.5,"lat":52.6,"km":2.9},{"c":"p1d","v":0.5,"lat":43.4,"km":3.4},{"c":"p1d","v":0.5,"lat":34.2,"km":3.3},{"c":"p1d","v":0.5,"lat":27.2,"km":2.9},{"c":"p1d","v":0.5,"lat":26.5,"km":2.4},{"c":"p1d","v":0.5,"lat":32.6,"km":2},{"c":"p1d","v":0.5,"lat":41.8,"km":1.6},{"c":"p1d","v":0.5,"lat":51.1,"km":1.3},{"c":"p1d","v":0.5,"lat":56.5,"km":1.4},{"c":"p1d","v":0.5,"lat":57.2,"km":2},
      {"c":"p2d","v":1,"lat":54.2,"km":2.1},{"c":"p2d","v":1,"lat":44.9,"km":2.6},{"c":"p2d","v":1,"lat":35.7,"km":2.6},{"c":"p2d","v":1,"lat":31.1,"km":2.4},{"c":"p2d","v":1,"lat":35.7,"km":2},{"c":"p2d","v":1,"lat":44.9,"km":1.8},{"c":"p2d","v":1,"lat":53.4,"km":1.7},{"c":"p2d","v":1,"lat":54.2,"km":2.1},
      {"c":"n1f","v":-0.1,"lat":88,"km":0.2},{"c":"n1f","v":-0.1,"lat":84,"km":0.5},{"c":"n1f","v":-0.1,"lat":80,"km":0.85},{"c":"n1f","v":-0.1,"lat":75,"km":1.2},{"c":"n1f","v":-0.1,"lat":70,"km":1.4},{"c":"n1f","v":-0.1,"lat":65,"km":1.35},{"c":"n1f","v":-0.1,"lat":61.5,"km":1},{"c":"n1f","v":-0.1,"lat":59.5,"km":0.4},
      {"c":"n2f","v":-0.5,"lat":80,"km":0.2},{"c":"n2f","v":-0.5,"lat":74,"km":0.55},{"c":"n2f","v":-0.5,"lat":69,"km":0.8},{"c":"n2f","v":-0.5,"lat":65,"km":0.75},{"c":"n2f","v":-0.5,"lat":62,"km":0.4},{"c":"n2f","v":-0.5,"lat":60.5,"km":0},
      {"c":"n3f","v":-1,"lat":72,"km":0.1},{"c":"n3f","v":-1,"lat":67,"km":0.3},{"c":"n3f","v":-1,"lat":63,"km":0.12},
      {"c":"ld1","v":-9,"lat":66.3,"km":1.4},{"c":"ld1","v":-9,"lat":68.3,"km":0.5},
      {"c":"ld2","v":-9,"lat":38.8,"km":5.8},{"c":"ld2","v":-9,"lat":38,"km":4.1},
      {"c":"ld3","v":-9,"lat":22.3,"km":1.4},{"c":"ld3","v":-9,"lat":16.9,"km":0.3}
    ],
    "botLabelsShaded": [
      {"t":"0","lat":31.1,"km":30.9},{"t":"0.1","lat":31.8,"km":25.7},{"t":"0.2","lat":29.1,"km":20.4},{"t":"0.5","lat":14.5,"km":16.5},{"t":"1.0","lat":14.9,"km":14.9},{"t":"2.0","lat":11.8,"km":13.4},{"t":"0","lat":53.4,"km":13},{"t":"0.1","lat":54.8,"km":10.1},{"t":"0.1","lat":74.2,"km":5.9},{"t":"0","lat":36.2,"km":4},{"t":"0.2","lat":6.4,"km":6.5},{"t":"0.5","lat":2.1,"km":6.55}
    ],
    "botLabelsClear": [
      {"t":"N40M","lat":81.4,"km":28.6},{"t":"-0.2","lat":41.1,"km":18.6},{"t":"-0.1","lat":52.6,"km":14.6},{"t":"-0.1","lat":86.2,"km":0.7},{"t":"(-1.2)","lat":65.2,"km":1.9},{"t":"(2.1)","lat":38.8,"km":6.4},{"t":"(-2.8)","lat":23.9,"km":1.75},{"t":"-0.1","lat":20.6,"km":3.7},{"t":"-0.2","lat":4.9,"km":2.5},{"t":"-0.5","lat":1.9,"km":9.4},{"t":"-0.2","lat":6.3,"km":8.75}
    ]
  },
  "vconcat": [
    {
      "spacing": 0,
      "hconcat": [
        {"width": 1, "height": 10, "data": {"values": []}, "mark": "point", "view": {"stroke": null}},
        {
          "width": 585, "height": 472,
          "layer": [
            {
              "data": {"name": "topFill"},
              "mark": {"type": "line", "fill": "#d0d0d0", "strokeWidth": 0, "interpolate": "catmull-rom", "clip": true},
              "encoding": {
                "x": {"field": "lat", "type": "quantitative", "scale": {"domain": [0, 90], "reverse": true, "nice": false, "zero": false},
                      "axis": {"values": [90,80,70,60,50,40,30,20,10,0], "labelExpr": "datum.value + '°'", "tickSize": -8, "labelPadding": 20, "labelFlush": false, "title": "LATITUDE", "titlePadding": 5, "zindex": 1}},
                "y": {"field": "km", "type": "quantitative", "scale": {"domain": [0, 31.5], "nice": false, "zero": false},
                      "axis": {"orient": "left", "values": [31.3, 18.7, 11.9, 7.5, 5.0, 2.7, 1.5, 0.4, 0.05],
                               "labelExpr": "datum.value > 30 ? '.009' : datum.value > 15 ? '.074' : datum.value > 10 ? '.189' : datum.value > 6.5 ? '.336' : datum.value > 4 ? '.500' : datum.value > 2 ? '.664' : datum.value > 1 ? '.811' : datum.value > 0.2 ? '.926' : '.991'",
                               "labelOffset": {"condition": [{"test": "datum.value < 0.2", "value": 24}, {"test": "datum.value < 1", "value": 10}], "value": 0},
                               "tickSize": 14, "labelPadding": 3, "title": "⟵ P/P*", "titlePadding": 6}},
                "detail": {"field": "r"},
                "order": {"value": null}
              }
            },
            {
              "data": {"name": "topLines"},
              "mark": {"type": "line", "color": "black", "interpolate": "catmull-rom", "clip": true},
              "encoding": {
                "x": {"field": "lat", "type": "quantitative"},
                "y": {"field": "km", "type": "quantitative",
                      "axis": {"orient": "right", "values": [0, 10, 20, 30], "tickSize": 12, "labelPadding": 2, "title": "HEIGHT(KM) ⟶", "titleAngle": 270, "titlePadding": 23}},
                "detail": {"field": "c"},
                "order": {"value": null},
                "strokeWidth": {"condition": [{"test": "datum.v == 0", "value": 2.6}, {"test": "datum.v > 0", "value": 1.7}], "value": 1}
              }
            },
            {
              "data": {"name": "topLabelsShaded"},
              "mark": {"type": "text", "fill": "#d0d0d0", "stroke": "#d0d0d0", "strokeWidth": 5, "strokeJoin": "round"},
              "encoding": {"x": {"field": "lat", "type": "quantitative"}, "y": {"field": "km", "type": "quantitative", "axis": null}, "text": {"field": "t"}}
            },
            {
              "data": {"name": "topLabelsClear"},
              "mark": {"type": "text", "fill": "white", "stroke": "white", "strokeWidth": 5, "strokeJoin": "round"},
              "encoding": {"x": {"field": "lat", "type": "quantitative"}, "y": {"field": "km", "type": "quantitative", "axis": null}, "text": {"field": "t"}}
            },
            {
              "data": {"name": "topLabelsShaded"},
              "mark": {"type": "text", "color": "black"},
              "encoding": {"x": {"field": "lat", "type": "quantitative"}, "y": {"field": "km", "type": "quantitative", "axis": null}, "text": {"field": "t"}}
            },
            {
              "data": {"name": "topLabelsClear"},
              "mark": {"type": "text", "color": "black"},
              "encoding": {"x": {"field": "lat", "type": "quantitative"}, "y": {"field": "km", "type": "quantitative", "axis": null}, "text": {"field": "t"}}
            }
          ],
          "resolve": {"axis": {"y": "independent"}}
        }
      ]
    },
    {
      "spacing": 0,
      "hconcat": [
        {"width": 11, "height": 10, "data": {"values": []}, "mark": "point", "view": {"stroke": null}},
        {
          "width": 584, "height": 482,
          "layer": [
            {
              "data": {"name": "botFill"},
              "mark": {"type": "line", "fill": "#d0d0d0", "strokeWidth": 0, "interpolate": "catmull-rom", "clip": true},
              "encoding": {
                "x": {"field": "lat", "type": "quantitative", "scale": {"domain": [0, 90], "reverse": true, "nice": false, "zero": false},
                      "axis": {"values": [90,80,70,60,50,40,30,20,10,0], "labelExpr": "datum.value + '°'", "tickSize": -8, "labelPadding": 16, "labelFlush": false, "title": "LATITUDE", "titlePadding": 5, "zindex": 1}},
                "y": {"field": "km", "type": "quantitative", "scale": {"domain": [0, 31.5], "nice": false, "zero": false},
                      "axis": {"orient": "left", "values": [31.5, 19.4, 13.1, 8.8, 6.3, 4.05, 2.9, 0.35, 0.05],
                               "labelExpr": "datum.value > 30 ? '.009' : datum.value > 16 ? '.074' : datum.value > 11 ? '.189' : datum.value > 7.5 ? '.336' : datum.value > 5 ? '.500' : datum.value > 3.5 ? '.664' : datum.value > 2 ? '.811' : datum.value > 0.2 ? '.926' : '.991'",
                               "labelOffset": {"condition": [{"test": "datum.value < 0.2", "value": 19}, {"test": "datum.value < 1", "value": 2}], "value": 0},
                               "tickSize": 14, "labelPadding": 3, "title": "⟵ P/P*", "titlePadding": 6}},
                "detail": {"field": "r"},
                "order": {"value": null}
              }
            },
            {
              "data": {"name": "botLines"},
              "mark": {"type": "line", "color": "black", "interpolate": "catmull-rom", "clip": true},
              "encoding": {
                "x": {"field": "lat", "type": "quantitative"},
                "y": {"field": "km", "type": "quantitative",
                      "axis": {"orient": "right", "values": [0, 10, 20, 30], "tickSize": 12, "labelPadding": 2, "title": "HEIGHT(KM) ⟶", "titleAngle": 270, "titlePadding": 23}},
                "detail": {"field": "c"},
                "order": {"value": null},
                "strokeWidth": {"condition": [{"test": "datum.v == 0", "value": 2.6}, {"test": "datum.v > 0", "value": 1.9}], "value": 1}
              }
            },
            {
              "data": {"name": "botLabelsShaded"},
              "mark": {"type": "text", "fill": "#d0d0d0", "stroke": "#d0d0d0", "strokeWidth": 5, "strokeJoin": "round"},
              "encoding": {"x": {"field": "lat", "type": "quantitative"}, "y": {"field": "km", "type": "quantitative", "axis": null}, "text": {"field": "t"}}
            },
            {
              "data": {"name": "botLabelsClear"},
              "mark": {"type": "text", "fill": "white", "stroke": "white", "strokeWidth": 5, "strokeJoin": "round"},
              "encoding": {"x": {"field": "lat", "type": "quantitative"}, "y": {"field": "km", "type": "quantitative", "axis": null}, "text": {"field": "t"}}
            },
            {
              "data": {"name": "botLabelsShaded"},
              "mark": {"type": "text", "color": "black"},
              "encoding": {"x": {"field": "lat", "type": "quantitative"}, "y": {"field": "km", "type": "quantitative", "axis": null}, "text": {"field": "t"}}
            },
            {
              "data": {"name": "botLabelsClear"},
              "mark": {"type": "text", "color": "black"},
              "encoding": {"x": {"field": "lat", "type": "quantitative"}, "y": {"field": "km", "type": "quantitative", "axis": null}, "text": {"field": "t"}}
            }
          ],
          "resolve": {"axis": {"y": "independent"}}
        }
      ]
    }
  ]
}
